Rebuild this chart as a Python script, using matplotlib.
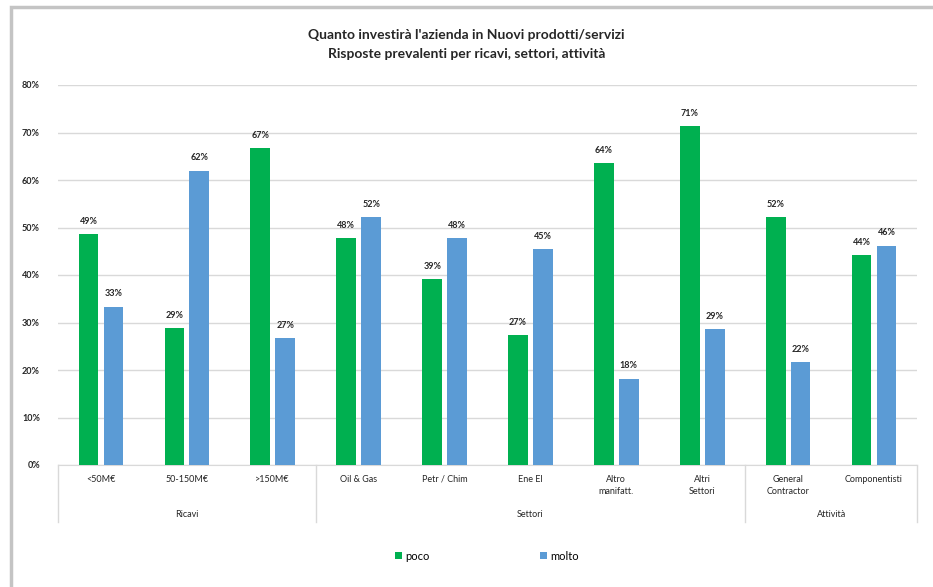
import matplotlib.pyplot as plt
import matplotlib.transforms as mtransforms
from matplotlib.patches import Rectangle
import numpy as np

plt.rcParams['font.family'] = ['Lato', 'DejaVu Sans']

categories = ['<50M€', '50-150M€', '>150M€', 'Oil & Gas', 'Petr / Chim', 'Ene El',
              'Altro\nmanifatt.', 'Altri\nSettori', 'General\nContractor', 'Componentisti']
groups = ['Ricavi', 'Settori', 'Attività']
group_sizes = [3, 5, 2]
poco = [48.6, 28.8, 66.7, 47.8, 39.1, 27.3, 63.6, 71.4, 52.2, 44.2]
molto = [33.3, 62.0, 26.7, 52.2, 47.8, 45.4, 18.2, 28.6, 21.7, 46.2]
yticks = [0, 10, 20, 30, 40, 50, 60, 70, 80]

green = '#00B050'
blue = '#5B9BD5'

fig = plt.figure(figsize=(9.33, 5.87), dpi=100)
# outer frame
fig.patches.append(Rectangle((11 / 933, -0.1), 1.2, 1.1 - 7 / 587, transform=fig.transFigure,
                             fill=False, edgecolor='#c4c4c4', linewidth=2.5, zorder=0))

ax = fig.add_axes([58 / 933, 1 - 465 / 587, (917 - 58) / 933, (465 - 85) / 587])
x = np.arange(len(categories))
w = 0.23
off = 0.145
b1 = ax.bar(x - off, poco, w, color=green, label='poco', zorder=3)
b2 = ax.bar(x + off, molto, w, color=blue, label='molto', zorder=3)

for bars, vals in ((b1, poco), (b2, molto)):
    for r, v in zip(bars, vals):
        ax.annotate(f'{v:.0f}%', (r.get_x() + r.get_width() / 2, v), xytext=(0, 6),
                    textcoords='offset points', ha='center', va='bottom',
                    fontsize=6.5, fontweight='bold', color='#262626')

ax.set_ylim(0, 80)
ax.set_xlim(-0.5, len(categories) - 0.5)
ax.set_yticks(yticks)
ax.set_yticklabels([f'{t}%' for t in yticks], fontsize=6.5, fontweight='bold', color='#262626')
ax.yaxis.grid(True, color='#d9d9d9', linewidth=1, zorder=0)
ax.tick_params(axis='y', length=0, pad=13)
ax.tick_params(axis='x', length=0, pad=7)
ax.set_xticks(x)
ax.set_xticklabels(categories, fontsize=6.5, color='#262626', va='top', linespacing=1.5)
for s in ['top', 'right', 'left']:
    ax.spines[s].set_visible(False)
ax.spines['bottom'].set_color('#d9d9d9')

# group separators and group labels below the category axis
trans = mtransforms.blended_transform_factory(ax.transData, ax.transAxes)
edges = np.concatenate([[0], np.cumsum(group_sizes)]) - 0.5
for e in edges:
    ax.plot([e, e], [0, -0.15], transform=trans, color='#d9d9d9', linewidth=1, clip_on=False)
for g, a, b in zip(groups, edges[:-1], edges[1:]):
    ax.text((a + b) / 2, -0.13, g, transform=trans, ha='center', va='center',
            fontsize=6.5, color='#262626')

fig.text(0.5, 1 - 35 / 587, "Quanto investirà l'azienda in Nuovi prodotti/servizi",
         ha='center', va='center', fontsize=10, fontweight='bold', color='#262626')
fig.text(0.5, 1 - 54 / 587, 'Risposte prevalenti per ricavi, settori, attività',
         ha='center', va='center', fontsize=10, fontweight='bold', color='#262626')

fig.legend(handles=[b1, b2], loc='center', bbox_to_anchor=(487 / 933, 1 - 556 / 587),
           ncol=2, frameon=False, fontsize=8, handlelength=0.6, handleheight=0.6,
           handletextpad=0.3, columnspacing=10)

fig.savefig('out.png', dpi=100)
